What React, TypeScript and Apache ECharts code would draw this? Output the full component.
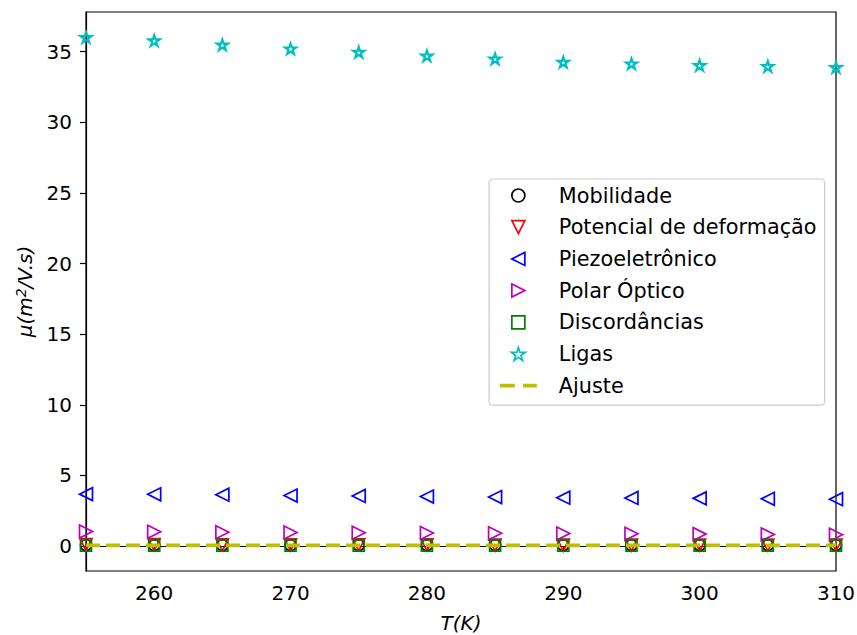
import React, { useEffect, useRef } from "react";
import * as echarts from "echarts";

const temps = [255, 260, 265, 270, 275, 280, 285, 290, 295, 300, 305, 310];
const mobilidade = [0.07, 0.07, 0.07, 0.07, 0.07, 0.07, 0.07, 0.07, 0.07, 0.07, 0.07, 0.07];
const potencial = [0.1, 0.1, 0.09, 0.09, 0.09, 0.09, 0.08, 0.08, 0.08, 0.08, 0.07, 0.07];
const piezo = [3.68, 3.67, 3.64, 3.58, 3.55, 3.51, 3.47, 3.43, 3.41, 3.38, 3.35, 3.32];
const polar = [1.03, 1.01, 0.99, 0.97, 0.95, 0.93, 0.91, 0.89, 0.87, 0.85, 0.83, 0.81];
const discordancias = [0.04, 0.04, 0.04, 0.04, 0.04, 0.04, 0.04, 0.04, 0.04, 0.04, 0.04, 0.04];
const ligas = [36.0, 35.78, 35.48, 35.2, 34.96, 34.7, 34.49, 34.26, 34.14, 34.02, 33.95, 33.88];
const ajuste = [0.05, 0.05, 0.05, 0.05, 0.05, 0.05, 0.05, 0.05, 0.05, 0.05, 0.05, 0.05];

const xTicks = [260, 270, 280, 290, 300, 310];
const yTicks = [0, 5, 10, 15, 20, 25, 30, 35];

const CIRCLE = "path://M0,10 A10,10 0 1,1 20,10 A10,10 0 1,1 0,10 Z";
const SQUARE = "path://M0,0 L20,0 L20,20 L0,20 Z";
const TRI_DOWN = "path://M0,0 L20,0 L10,20 Z";
const TRI_LEFT = "path://M20,0 L20,20 L0,10 Z";
const TRI_RIGHT = "path://M0,0 L20,10 L0,20 Z";
const STAR =
  "path://M100,0 L122.45,69.1 L195.1,69.1 L136.3,111.8 L158.8,180.9 L100,138.2 L41.2,180.9 L63.7,111.8 L4.9,69.1 L77.55,69.1 Z";

const FONT = "DejaVu Sans";
const FS = 20;

function pairs(vals: number[]) {
  return temps.map((t, i) => [t, vals[i]]);
}

export default function App() {
  const ref = useRef<HTMLDivElement>(null);
  useEffect(() => {
    if (!ref.current) return;
    const chart = echarts.init(ref.current, null, { renderer: "svg" });
    const scatter = (name: string, vals: number[], symbol: string, size: number, color: string, bw = 1.7) => ({
      name,
      type: "scatter",
      data: pairs(vals),
      symbol,
      symbolSize: size,
      symbolKeepAspect: true,
      itemStyle: { color: "transparent", borderColor: color, borderWidth: bw, opacity: 1 },
      clip: true,
    });
    chart.setOption({
      animation: false,
      backgroundColor: "#ffffff",
      grid: {
        left: 86,
        right: 21,
        top: 12,
        bottom: 64,
        outerBoundsMode: "none",
        containLabel: false,
        show: true,
        borderColor: "#000",
        borderWidth: 1.2,
        backgroundColor: "transparent",
      },
      xAxis: {
        type: "value",
        min: 255,
        max: 310,
        name: "T(K)",
        nameLocation: "middle",
        nameGap: 42,
        nameTextStyle: { fontFamily: FONT, fontSize: FS, fontStyle: "italic", color: "#000" },
        axisLine: { show: true, lineStyle: { color: "#000", width: 1.2 } },
        axisTick: { show: true, length: 6, lineStyle: { color: "#000", width: 1.2 }, customValues: xTicks },
        axisLabel: { fontFamily: FONT, fontSize: FS, color: "#000", margin: 12, customValues: xTicks },
        splitLine: { show: false },
      },
      yAxis: {
        type: "value",
        min: -1.76,
        max: 37.8,
        name: "{i|μ(m}{s|2}{i|/V.s)}",
        nameLocation: "middle",
        nameGap: 50,
        nameRotate: 90,
        nameTextStyle: {
          fontFamily: FONT,
          fontSize: FS,
          color: "#000",
          rich: {
            i: { fontFamily: FONT, fontSize: FS, fontStyle: "italic", color: "#000" },
            s: { fontFamily: FONT, fontSize: 14, fontStyle: "italic", color: "#000", verticalAlign: "top", padding: [0, 0, 8, 0] },
          },
        },
        axisLine: { show: true, lineStyle: { color: "#000", width: 1.2 } },
        axisTick: { show: true, length: 6, lineStyle: { color: "#000", width: 1.2 }, customValues: yTicks },
        axisLabel: { fontFamily: FONT, fontSize: FS, color: "#000", margin: 14, customValues: yTicks },
        splitLine: { show: false },
      },
      legend: {
        orient: "vertical",
        left: 489,
        top: 179,
        width: 340,
        itemWidth: 37,
        itemHeight: 13,
        itemGap: 10.7,
        padding: [6, 8, 9, 9],
        borderColor: "#cccccc",
        borderWidth: 1.2,
        borderRadius: 4,
        backgroundColor: "rgba(255,255,255,0.8)",
        textStyle: { fontFamily: FONT, fontSize: 20.8, color: "#000", lineHeight: 20, padding: [0, 0, 0, 17] },
        itemStyle: { borderWidth: 1.7 },
        data: [
          { name: "Mobilidade" },
          { name: "Potencial de deformação" },
          { name: "Piezoeletrônico" },
          { name: "Polar Óptico" },
          { name: "Discordâncias" },
          { name: "Ligas" },
          {
            name: "Ajuste",
            lineStyle: { width: 3.7, type: [15, 8] },
            itemStyle: { color: "transparent", borderColor: "transparent", borderWidth: 0 },
          },
        ],
      },
      series: [
        scatter("Mobilidade", mobilidade, CIRCLE, 11, "#000000"),
        scatter("Potencial de deformação", potencial, TRI_DOWN, 12, "#ff0000"),
        scatter("Piezoeletrônico", piezo, TRI_LEFT, 13, "#0000ff"),
        scatter("Polar Óptico", polar, TRI_RIGHT, 13, "#bf00bf"),
        scatter("Discordâncias", discordancias, SQUARE, 11, "#008000"),
        scatter("Ligas", ligas, STAR, 11, "#00bfbf", 2.2),
        {
          name: "Ajuste",
          type: "line",
          data: pairs(ajuste),
          symbol: "none",
          showSymbol: false,
          lineStyle: { color: "#bfbf00", width: 3.7, type: [14, 6] },
          itemStyle: { color: "#bfbf00" },
          z: 3,
        },
      ],
    });
    return () => chart.dispose();
  }, []);
  return <div ref={ref} style={{ width: 857, height: 635, position: "absolute", left: 0, top: 0 }} />;
}
